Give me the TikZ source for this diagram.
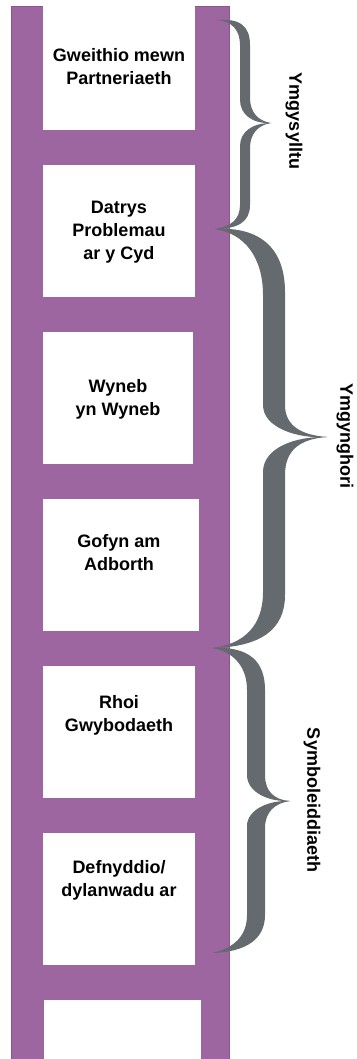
\documentclass[tikz,border=0pt]{standalone}
\usepackage{fontspec}
\setmainfont{Liberation Sans}
\definecolor{ladderpurple}{RGB}{157,102,160}
\definecolor{ladderedge}{RGB}{138,84,142}
\definecolor{bracegrey}{RGB}{100,106,110}

\begin{document}
\begin{tikzpicture}[x=1pt,y=-1pt,
  boxtext/.style={align=center,font=\fontsize{18}{23}\selectfont\bfseries,inner sep=0pt},
  sidetext/.style={rotate=-90,font=\fontsize{18}{23}\selectfont\bfseries,inner sep=0pt},
  bracefill/.style={fill=bracegrey,draw=none}]
\useasboundingbox (0,0) rectangle (356,1059);
% ladder
\draw[fill=ladderpurple, draw=ladderedge, line width=0.8pt] (11,6) rectangle (229,1062);
\fill[white] (43,4) rectangle (195,130);
\fill[white] (43,165) rectangle (195,297);
\fill[white] (43,332) rectangle (193,464);
\fill[white] (43,499) rectangle (199,631);
\fill[white] (43,666) rectangle (195,798);
\fill[white] (43,833) rectangle (195,965);
\fill[white] (44,1000) rectangle (201,1062);
\node[boxtext] (gweithio) at (119,67) {Gweithio mewn\\Partneriaeth};
\node[boxtext] (datrys) at (119,232) {Datrys\\Problemau\\ar y Cyd};
\node[boxtext] (wyneb) at (118,399) {Wyneb\\yn Wyneb};
\node[boxtext] (gofyn) at (119,553) {Gofyn am\\Adborth};
\node[boxtext] (rhoi) at (119,715) {Rhoi\\Gwybodaeth};
\node[boxtext] (defnyddio) at (119,880) {Defnyddio/\\dylanwadu ar};
% brackets
\path[bracefill] (216,20) .. controls (240,18) and (250,26) .. (250,45) -- (250,98)
  .. controls (250,112) and (258,121) .. (271,123)
  .. controls (252,124) and (240,114) .. (240,100) -- (240,45)
  .. controls (240,30) and (232,21) .. (216,20) -- cycle;
\path[bracefill] (271,123) .. controls (258,125) and (250,134) .. (250,148) -- (250,205)
  .. controls (250,222) and (238,229) .. (214,229)
  .. controls (230,227) and (240,220) .. (240,205) -- (240,146)
  .. controls (240,132) and (252,123) .. (271,123) -- cycle;
\path[bracefill] (214,229) .. controls (262,226) and (285,250) .. (285,292) -- (285,405)
  .. controls (285,425) and (300,435) .. (327,437)
  .. controls (298,439) and (263,428) .. (263,405) -- (263,295)
  .. controls (263,258) and (245,233) .. (214,229) -- cycle;
\path[bracefill] (327,437) .. controls (300,439) and (285,450) .. (285,475) -- (285,595)
  .. controls (285,630) and (260,647) .. (212,648)
  .. controls (245,644) and (263,625) .. (263,592) -- (263,472)
  .. controls (263,448) and (295,436) .. (327,437) -- cycle;
\path[bracefill] (212,648) .. controls (250,646) and (265,662) .. (265,690) -- (265,775)
  .. controls (265,792) and (275,800) .. (290,801)
  .. controls (268,802) and (247,792) .. (247,775) -- (247,690)
  .. controls (247,668) and (235,652) .. (212,648) -- cycle;
\path[bracefill] (290,801) .. controls (275,803) and (265,812) .. (265,828) -- (265,915)
  .. controls (265,940) and (245,952) .. (212,953)
  .. controls (235,948) and (247,935) .. (247,915) -- (247,826)
  .. controls (247,810) and (268,800) .. (290,801) -- cycle;
\node[sidetext] (ymgysylltu) at (294,121) {Ymgysylltu};
\node[sidetext] (ymgynghori) at (345,436) {Ymgynghori};
\node[sidetext] (symbol) at (312,800) {Symboleiddiaeth};
\end{tikzpicture}
\end{document}
